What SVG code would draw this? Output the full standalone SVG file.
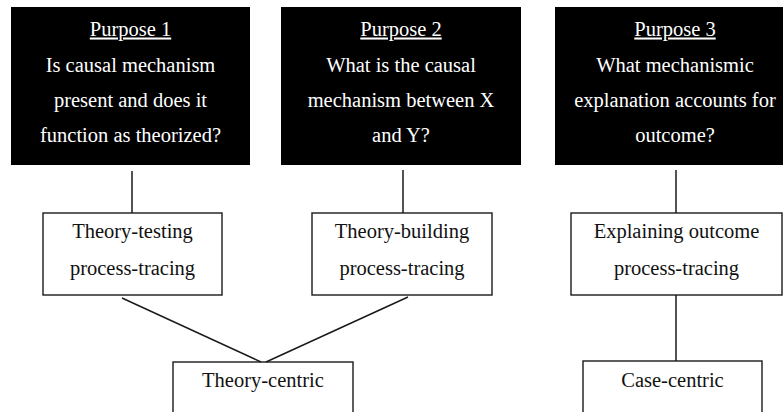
<svg xmlns="http://www.w3.org/2000/svg" width="783" height="412" viewBox="0 0 783 412">
  <style>
    .dark { fill: #000; }
    .light { fill: #fff; stroke: #1a1a1a; stroke-width: 1.4; }
    .wt { fill: #fff; font-family: "Liberation Serif", "Times New Roman", serif; font-size: 20.5px; text-anchor: middle; }
    .bt { fill: #111; font-family: "Liberation Serif", "Times New Roman", serif; font-size: 20.5px; text-anchor: middle; }
    .u { text-decoration: underline; }
    .conn line { stroke: #1a1a1a; stroke-width: 1.5; }
  </style>
  <rect x="0" y="0" width="783" height="412" fill="#fff"/>
  <g id="purpose1">
    <rect class="dark" x="11" y="7" width="239" height="158"/>
    <text class="wt u" x="130.5" y="35.5">Purpose 1</text>
    <text class="wt" x="130.5" y="71.5">Is causal mechanism</text>
    <text class="wt" x="130.5" y="107">present and does it</text>
    <text class="wt" x="130.5" y="142">function as theorized?</text>
  </g>
  <g id="purpose2">
    <rect class="dark" x="281" y="7" width="240" height="158"/>
    <text class="wt u" x="401" y="35.5">Purpose 2</text>
    <text class="wt" x="401" y="71.5">What is the causal</text>
    <text class="wt" x="401" y="107">mechanism between X</text>
    <text class="wt" x="401" y="142">and Y?</text>
  </g>
  <g id="purpose3">
    <rect class="dark" x="555" y="7" width="240" height="158"/>
    <text class="wt u" x="675" y="35.5">Purpose 3</text>
    <text class="wt" x="675" y="71.5">What mechanismic</text>
    <text class="wt" x="675" y="107">explanation accounts for</text>
    <text class="wt" x="675" y="142">outcome?</text>
  </g>
  <g id="theory-testing">
    <rect class="light" x="43" y="213" width="179" height="82"/>
    <text class="bt" x="132.5" y="238">Theory-testing</text>
    <text class="bt" x="132.5" y="275">process-tracing</text>
  </g>
  <g id="theory-building">
    <rect class="light" x="312" y="213" width="180" height="82"/>
    <text class="bt" x="402" y="238">Theory-building</text>
    <text class="bt" x="402" y="275">process-tracing</text>
  </g>
  <g id="explaining-outcome">
    <rect class="light" x="571" y="213" width="211" height="82"/>
    <text class="bt" x="676.5" y="238">Explaining outcome</text>
    <text class="bt" x="676.5" y="275">process-tracing</text>
  </g>
  <g id="theory-centric">
    <rect class="light" x="173" y="362" width="180" height="60"/>
    <text class="bt" x="263" y="387">Theory-centric</text>
  </g>
  <g id="case-centric">
    <rect class="light" x="583" y="361" width="179" height="61"/>
    <text class="bt" x="672.5" y="387">Case-centric</text>
  </g>
  <g id="connectors" class="conn">
    <line x1="132" y1="171" x2="132" y2="213"/>
    <line x1="403" y1="170" x2="403" y2="213"/>
    <line x1="676" y1="170" x2="676" y2="213"/>
    <line x1="676" y1="295" x2="676" y2="361"/>
    <line x1="122" y1="298" x2="261" y2="362"/>
    <line x1="408" y1="297" x2="266" y2="362"/>
  </g>
</svg>
